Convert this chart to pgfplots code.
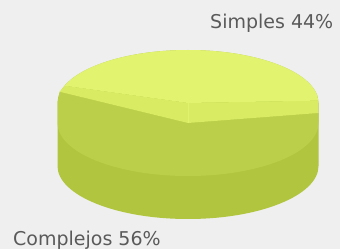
\documentclass[border=0pt]{standalone}
\usepackage{pgfplots}
\usepackage{pgfplotstable}
\pgfplotsset{compat=1.18}
\usepackage{fontspec}
\setmainfont{DejaVu Sans}
\definecolor{bg}{HTML}{EFEFEF}
\definecolor{simtop}{HTML}{E2F46F}
\definecolor{strip}{HTML}{D9EB63}
\definecolor{comtop}{HTML}{BCCF4A}
\definecolor{wall}{HTML}{B2C53F}
\definecolor{lbl}{HTML}{5A5A5A}
\pgfplotstableread{
label value
Simples 44
Complejos 56
}\piedata
\begin{document}
\begin{tikzpicture}
\pgfplotstablegetelem{0}{value}\of\piedata \let\vS\pgfplotsretval
\pgfplotstablegetelem{1}{value}\of\piedata \let\vC\pgfplotsretval
\begin{axis}[hide axis, x=1pt, y=1pt, xmin=0, xmax=340, ymin=0, ymax=249,
  clip=false, scale only axis]
% geometry: pie centre, radii, depth
\pgfmathsetmacro{\cx}{188}\pgfmathsetmacro{\cy}{146}
\pgfmathsetmacro{\ra}{130.5}\pgfmathsetmacro{\rb}{53}
\pgfmathsetmacro{\te}{161}
\pgfmathsetmacro{\ts}{\te-3.6*\vS}
\pgfmathsetmacro{\lsx}{\cx+\ra*cos(\te)}\pgfmathsetmacro{\lsy}{\cy+\rb*sin(\te)}
\pgfmathsetmacro{\rsx}{\cx+\ra*cos(\ts)}\pgfmathsetmacro{\rsy}{\cy+\rb*sin(\ts)}
\pgfmathsetmacro{\ccy}{\cy-20}
\pgfmathsetmacro{\by}{\cy-63}
\fill[bg] (axis cs:0,0) rectangle (axis cs:340,249);
% silhouette / wall
\fill[wall] (axis cs:\cx-\ra,\cy) arc[start angle=180,end angle=0,x radius=\ra,y radius=\rb]
  -- (axis cs:\cx+\ra,\by) arc[start angle=0,end angle=-180,x radius=\ra,y radius=\rb] -- cycle;
% Complejos top face
\fill[comtop] (axis cs:\cx,\ccy) -- (axis cs:\lsx-5,\lsy-6) -- (axis cs:\cx-\ra,\cy)
  -- (axis cs:\cx-\ra,\ccy) arc[start angle=180,end angle=360,x radius=\ra,y radius=\rb]
  -- (axis cs:\cx+\ra,\ccy+10) -- cycle;
% strip (side wall of Simples)
\fill[strip] (axis cs:\cx,\ccy) -- (axis cs:\lsx-5,\lsy-6) -- (axis cs:\lsx,\lsy)
  -- (axis cs:\cx,\cy) -- (axis cs:\rsx,\rsy) -- (axis cs:\cx+\ra,\ccy+10) -- cycle;
\draw[simtop!80!strip, line width=0.8pt] (axis cs:\cx,\cy) -- (axis cs:\cx,\ccy);
% Simples top face
\fill[simtop] (axis cs:\cx,\cy) -- (axis cs:\rsx,\rsy)
  arc[start angle=\ts,end angle=\te,x radius=\ra,y radius=\rb] -- cycle;
\node[anchor=base west, inner sep=0, text=lbl, font=\fontsize{19}{22}\selectfont]
  at (axis cs:210,220) {Simples \vS\%};
\node[anchor=base west, inner sep=0, text=lbl, font=\fontsize{19}{22}\selectfont]
  at (axis cs:13,4) {Complejos \vC\%};
\end{axis}
\end{tikzpicture}
\end{document}
